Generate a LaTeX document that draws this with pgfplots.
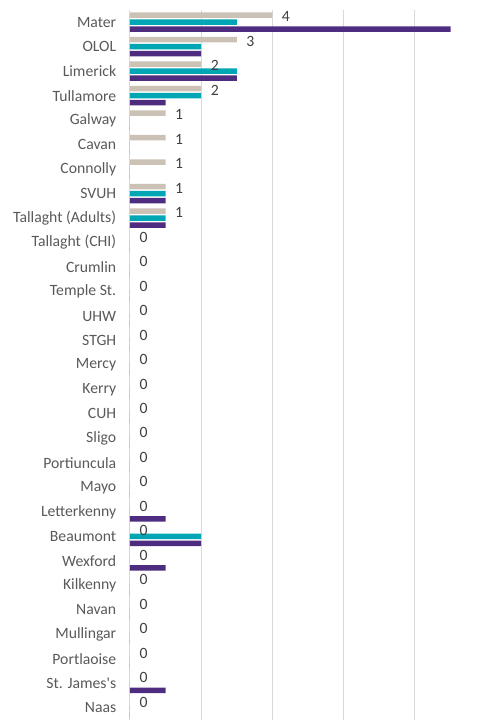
\documentclass[border=0pt]{standalone}
\usepackage{pgfplots}
\pgfplotsset{compat=1.18}
\usepackage{pgfplotstable}
\usepackage{fontspec}
\setmainfont{Carlito}

\definecolor{greyc}{HTML}{CBC2B5}
\definecolor{tealc}{HTML}{00A6B4}
\definecolor{purplec}{HTML}{4E2D80}
\definecolor{labelc}{HTML}{595959}

% y: 28 = Mater (top) ... 0 = Naas (bottom)
\pgfplotstableread{
y  grey teal purple
28 4 3 9
27 3 2 2
26 2 3 3
25 2 2 1
24 1 0 0
23 1 0 0
22 1 0 0
21 1 1 1
20 1 1 1
19 0 0 0
18 0 0 0
17 0 0 0
16 0 0 0
15 0 0 0
14 0 0 0
13 0 0 0
12 0 0 0
11 0 0 0
10 0 0 0
9  0 0 0
8  0 0 1
7  0 2 2
6  0 0 1
5  0 0 0
4  0 0 0
3  0 0 0
2  0 0 0
1  0 0 1
0  0 0 0
}\data

\begin{document}
\begin{tikzpicture}
\begin{axis}[
    scale only axis,
    width=349pt, height=710pt,
    xmin=0, xmax=9.8,
    ymin=-0.5, ymax=28.5,
    xtick={0,2,4,6,8}, xticklabels={},
    ytick={0,...,28},
    yticklabels={Naas,St. James\textquotesingle s,Portlaoise,Mullingar,Navan,Kilkenny,Wexford,Beaumont,Letterkenny,Mayo,Portiuncula,Sligo,CUH,Kerry,Mercy,STGH,UHW,Temple St.,Crumlin,Tallaght (CHI),Tallaght (Adults),SVUH,Connolly,Cavan,Galway,Tullamore,Limerick,OLOL,Mater},
    yticklabel style={font=\fontsize{15.7}{18}\selectfont, color=labelc, xshift=-6pt},
    xmajorgrids, ymajorgrids=false,
    major grid style={color=black!15, line width=1pt},
    axis line style={draw=none},
    tick style={draw=none},
    xbar, bar width=5.5pt,
    /pgf/number format/assume math mode=true,
]
\addplot[fill=greyc, draw=none, bar shift=7pt,
    nodes near coords,
    nodes near coords style={font=\fontsize{15.7}{18}\selectfont, color=black!75, anchor=west, xshift=6pt, yshift=-1.5pt}]
    table[x=grey, y=y] {\data};
\addplot[fill=tealc, draw=none, bar shift=0pt] table[x=teal, y=y] {\data};
\addplot[fill=purplec, draw=none, bar shift=-7pt] table[x=purple, y=y] {\data};
\end{axis}
\pgfresetboundingbox
\path[use as bounding box] (-130pt,0pt) rectangle (349pt,720pt);
\end{tikzpicture}
\end{document}
